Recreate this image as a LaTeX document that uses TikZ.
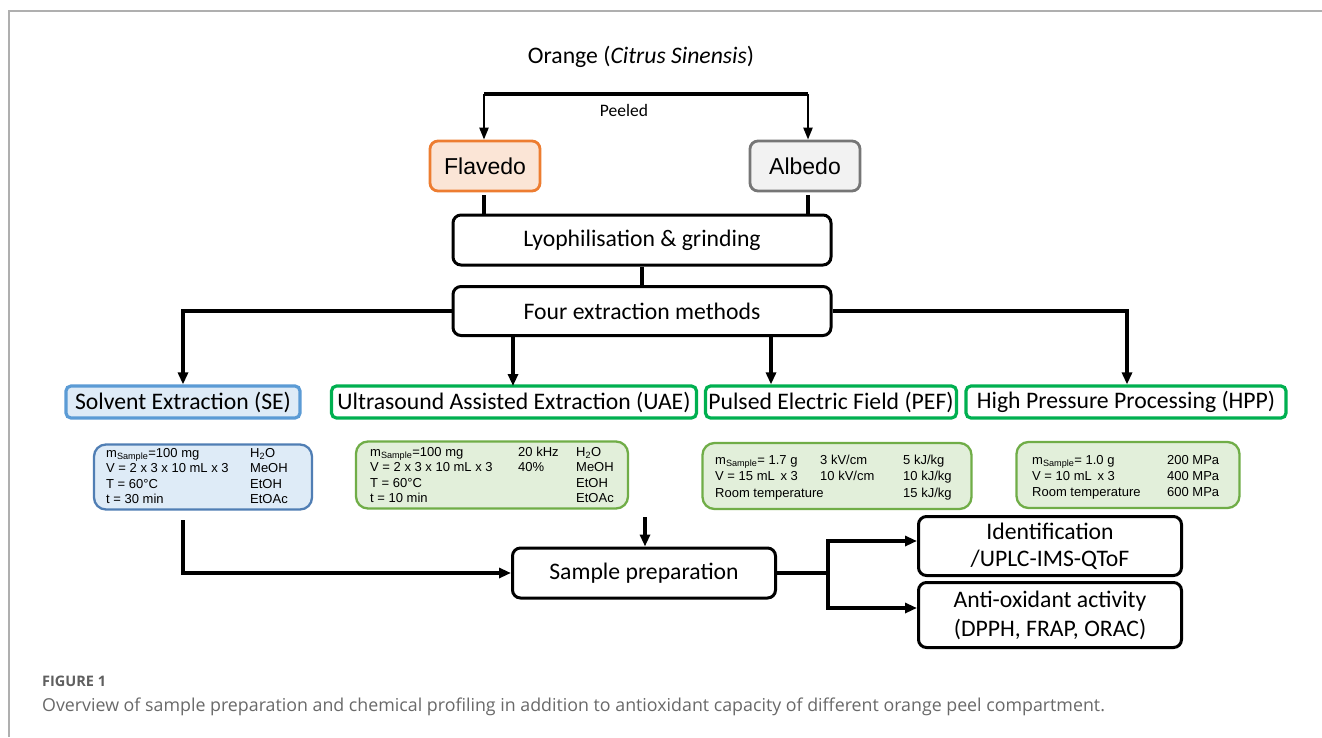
\documentclass[tikz,border=0pt]{standalone}
\usepackage{fontspec}
\usetikzlibrary{arrows.meta,calc}
\newfontfamily\carl{Carlito}
\newfontfamily\arialf{Liberation Sans}
\newfontfamily\capf{Open Sans}
\definecolor{frameg}{RGB}{175,175,175}
\definecolor{orb}{RGB}{237,125,49}
\definecolor{orf}{RGB}{251,229,214}
\definecolor{grb}{RGB}{118,118,118}
\definecolor{grf}{RGB}{242,242,242}
\definecolor{blb}{RGB}{91,155,213}
\definecolor{blf}{RGB}{222,235,247}
\definecolor{blpb}{RGB}{80,126,180}
\definecolor{gnb}{RGB}{0,176,80}
\definecolor{gpb}{RGB}{112,173,71}
\definecolor{gpf}{RGB}{226,239,218}
\definecolor{capc}{RGB}{105,105,105}
\definecolor{figc}{RGB}{95,95,95}
\tikzset{
  carlfont/.style={font=\carl\fontsize{23.7}{27}\selectfont},
  partbox/.style={draw, rounded corners=8pt, line width=2.8pt, minimum width=110pt, minimum height=50pt, inner sep=0pt, font=\arialf\fontsize{23}{27}\selectfont},
  procbox/.style={draw=black, rounded corners=8pt, line width=3pt, inner sep=0pt, align=center, carlfont},
  methbox/.style={draw, rounded corners=5pt, line width=3.2pt, minimum height=32pt, inner sep=0pt, carlfont},
  parbox/.style={draw, rounded corners=12pt, line width=2.3pt, inner sep=0pt},
  partext/.style={anchor=base west, inner sep=0pt, font=\arialf\fontsize{13}{15.5}\selectfont},
  conn/.style={line width=3.4pt},
  arr/.style={line width=3.4pt, -{Triangle[length=12pt,width=10pt]}},
  thinarr/.style={line width=2.3pt, -{Triangle[length=12pt,width=9pt]}}
}
\begin{document}
\begin{tikzpicture}[x=1pt,y=-1pt]
\useasboundingbox[fill=white] (0,0) rectangle (1322,737);
% frame
\draw[frameg, line width=2pt] (9,737) -- (9,11) -- (1322,11);

% title
\node[carlfont] (title) at (641,57) {Orange (\textit{Citrus Sinensis})};
\coordinate (brl) at (484,94);
\coordinate (brr) at (808,94);
\node[font=\carl\fontsize{17.5}{20}\selectfont] (peeled) at (624,110) {Peeled};

% parts
\node[partbox, draw=orb, fill=orf] (flav) at (485,166) {Flavedo};
\node[partbox, draw=grb, fill=grf] (alb) at (805,166) {Albedo};
\draw[line width=3.6pt] (brl) -- (brr);
\draw[thinarr] (brl) -- (brl |- flav.north);
\draw[thinarr] (brr) -- (brr |- alb.north);

% processing
\node[procbox, minimum width=378pt, minimum height=50pt] (lyo) at (642,240) {Lyophilisation \& grinding};
\node[procbox, minimum width=378pt, minimum height=49pt] (four) at (642,311) {Four extraction methods};
\draw[conn] ($(flav.south)+(-1,3)$) -- ($(flav.south |- lyo.north)+(-1,0)$);
\draw[conn] ($(alb.south)+(3,3)$) -- ($(alb.south |- lyo.north)+(3,0)$);
\draw[conn] (lyo.south -| four.north) -- (four.north);

% methods
\node[methbox, draw=blb, fill=blf, minimum width=234pt] (se) at (183,402) {Solvent Extraction (SE)};
\node[methbox, draw=gnb, fill=white, minimum width=365pt] (uae) at (514,402) {Ultrasound Assisted Extraction (UAE)};
\node[methbox, draw=gnb, fill=white, minimum width=251pt] (pef) at (831,402) {Pulsed Electric Field (PEF)};
\node[methbox, draw=gnb, fill=white, minimum width=320pt] (hpp) at (1126,402) {High Pressure Processing (HPP)};

\coordinate (sebr) at (183,311);
\coordinate (hppbr) at (1127,311);
\coordinate (pefin) at (771,384);
\draw[conn] (four.west) -- (sebr);
\draw[conn] (four.east) -- (hppbr);
\draw[arr] ($(sebr)+(0,-1.7)$) -- (se.north);
\draw[arr] ($(hppbr)+(0,-1.7)$) -- (hppbr |- hpp.north);
\draw[arr] (four.south -| 513,0) -- (513,386);
\draw[arr] (four.south -| pefin) -- (pefin |- pef.north);

% parameter boxes
\node[parbox, draw=blpb, fill=blf, minimum width=218pt, minimum height=65pt] (sep) at (203,477) {};
\node[parbox, draw=gpb, fill=gpf, minimum width=272pt, minimum height=67pt] (uaep) at (492,475) {};
\node[parbox, draw=gpb, fill=gpf, minimum width=269pt, minimum height=66pt] (pefp) at (837,476) {};
\node[parbox, draw=gpb, fill=gpf, minimum width=223pt, minimum height=66pt] (hppp) at (1128,475) {};

\node[partext] (setx) at (106,457) {\begin{tabular}[t]{@{}p{144pt}@{}l@{}}
m\textsubscript{Sample}=100 mg & H\textsubscript{2}O\\
V = 2 x 3 x 10 mL x 3 & MeOH\\
T = 60°C & EtOH\\
t = 30 min & EtOAc
\end{tabular}};
\node[partext] (uaetx) at (370,456) {\begin{tabular}[t]{@{}p{148pt}@{}p{58pt}@{}l@{}}
m\textsubscript{Sample}=100 mg & 20 kHz & H\textsubscript{2}O\\
V = 2 x 3 x 10 mL x 3 & 40\% & MeOH\\
T = 60°C & & EtOH\\
t = 10 min & & EtOAc
\end{tabular}};
\node[partext, font=\arialf\fontsize{13}{16.5}\selectfont] (peftx) at (715,464) {\begin{tabular}[t]{@{}p{105pt}@{}p{83pt}@{}l@{}}
m\textsubscript{Sample}= 1.7 g & 3 kV/cm & 5 kJ/kg\\
V = 15 mL \,x 3 & 10 kV/cm & 10 kJ/kg\\
\multicolumn{2}{@{}p{188pt}@{}}{Room temperature} & 15 kJ/kg
\end{tabular}};
\node[partext, font=\arialf\fontsize{13}{16.2}\selectfont] (hpptx) at (1032,464) {\begin{tabular}[t]{@{}p{135pt}@{}l@{}}
m\textsubscript{Sample}= 1.0 g & 200 MPa\\
V = 10 mL \,x 3 & 400 MPa\\
Room temperature & 600 MPa
\end{tabular}};

% sample preparation and analyses
\node[procbox, minimum width=263pt, minimum height=50pt] (sp) at (644,573) {Sample preparation};
\node[procbox, minimum width=263pt, minimum height=59pt, font=\carl\fontsize{23.7}{27}\selectfont] (ident) at (1050,546) {Identification\\/UPLC-IMS-QToF};
\node[procbox, minimum width=263pt, minimum height=65pt, font=\carl\fontsize{23.7}{29}\selectfont] (anti) at (1050,615) {Anti-oxidant activity\\(DPPH, FRAP, ORAC)};

\coordinate (spin) at (645,517);
\draw[arr] (spin) -- (spin |- sp.north);
\coordinate (sedown) at (183,520);
\draw[arr] (sedown) -- (sedown |- sp.west) -- (sp.west);
\coordinate (br) at (828,573);
\coordinate (brt) at (828,541);
\coordinate (brb) at (828,608);
\draw[conn] (sp.east) -- (br);
\draw[arr] (br) -- (brb) -- (ident.west |- brb);
\draw[arr] (br) -- (brt) -- (ident.west |- brt);

% caption
\node[anchor=base west, inner sep=0pt, text=figc, font=\capf\bfseries\fontsize{14.5}{17}\selectfont] (figlab) at (42,686) {FIGURE 1};
\node[anchor=base west, inner sep=0pt, text=capc, font=\capf\fontsize{17.8}{21}\selectfont] (caption) at (42,711) {Overview of sample preparation and chemical profiling in addition to antioxidant capacity of different orange peel compartment.};
\end{tikzpicture}
\end{document}
